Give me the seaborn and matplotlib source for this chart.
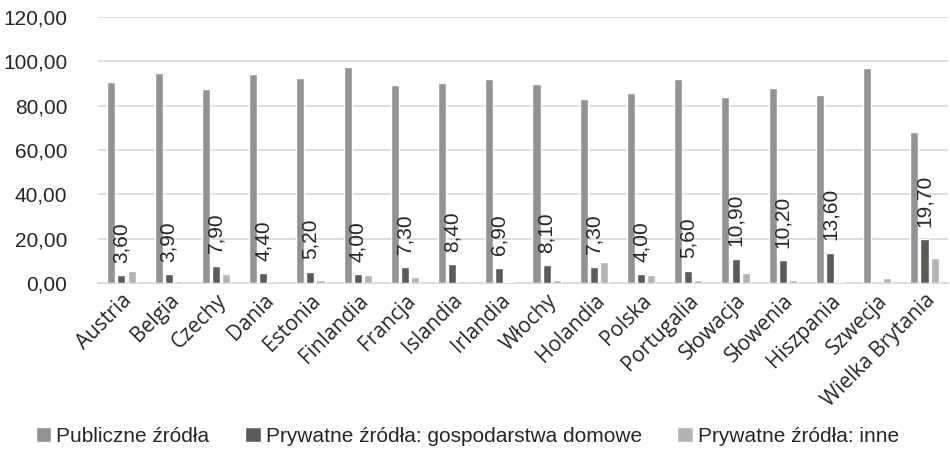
import pandas as pd
import seaborn as sns
import matplotlib.pyplot as plt
from matplotlib.ticker import FuncFormatter

countries = ["Austria", "Belgia", "Czechy", "Dania", "Estonia", "Finlandia", "Francja",
             "Islandia", "Irlandia", "Włochy", "Holandia", "Polska", "Portugalia",
             "Słowacja", "Słowenia", "Hiszpania", "Szwecja", "Wielka Brytania"]
publiczne = [90.8, 94.6, 87.4, 94.2, 92.7, 97.3, 89.5, 90.1, 92.1, 89.8, 82.9, 85.8,
             92.2, 83.8, 88.0, 84.9, 97.2, 68.2]
gospodarstwa = [3.6, 3.9, 7.9, 4.4, 5.2, 4.0, 7.3, 8.4, 6.9, 8.1, 7.3, 4.0, 5.6, 10.9,
                10.2, 13.6, 0.0, 19.7]
inne = [5.4, 1.0, 4.3, 0.0, 1.6, 3.8, 2.8, 1.0, 0.3, 1.5, 9.3, 3.7, 1.5, 4.7, 1.3,
        0.5, 2.4, 11.5]
series = ["Publiczne źródła", "Prywatne źródła: gospodarstwa domowe", "Prywatne źródła: inne"]
colors = ["#939393", "#5f5b56", "#b4b4b4"]

rows = []
for vals, name in zip([publiczne, gospodarstwa, inne], series):
    for c, v in zip(countries, vals):
        rows.append({"kraj": c, "wartosc": v, "seria": name})
df = pd.DataFrame(rows)

sns.set_style("white")
plt.rcParams['font.family'] = ['Liberation Sans', 'DejaVu Sans']

fig, ax = plt.subplots(figsize=(9.5, 4.5), dpi=100)
fig.subplots_adjust(left=0.103, right=0.998, top=0.962, bottom=0.371)

sns.barplot(data=df, x="kraj", y="wartosc", hue="seria", palette=colors,
            width=0.64, gap=0.2, ax=ax, legend=True, zorder=3)

# etykiety nad słupkami gospodarstw domowych
labels = [f"{v:.2f}".replace(".", ",") if v > 0 else "" for v in gospodarstwa]
ax.bar_label(ax.containers[1], labels=labels, rotation=90, padding=9, fontsize=15)

ax.set_ylim(0, 120)
ax.set_yticks(range(0, 121, 20))
ax.yaxis.set_major_formatter(FuncFormatter(lambda v, p: f"{v:.2f}".replace(".", ",")))
ax.tick_params(axis="y", labelsize=15, length=0, pad=22)
ax.tick_params(axis="x", length=0, pad=5)
ax.set_xlim(-0.5, len(countries) - 0.5)
ax.set_xticks(range(len(countries)))
ax.set_xticklabels(countries, rotation=45, ha="right", rotation_mode="anchor",
                   fontsize=15, family=["Open Sans", "DejaVu Sans"])
ax.grid(axis="y", color="#d9d9d9", linewidth=1.3, zorder=0)
ax.set_axisbelow(True)
for s in ["left", "right", "top"]:
    ax.spines[s].set_visible(False)
ax.spines["bottom"].set_color("#d9d9d9")
ax.spines["bottom"].set_linewidth(1.3)
ax.set_xlabel("")
ax.set_ylabel("")

handles, names = ax.get_legend_handles_labels()
ax.legend_.remove()
fig.legend(handles, names, loc="center", bbox_to_anchor=(0.492, 0.03), ncol=3,
           frameon=False, fontsize=15, handlelength=0.75, handleheight=0.75,
           handletextpad=0.25, columnspacing=1.7, borderaxespad=0, borderpad=0)

fig.savefig("out.png")
